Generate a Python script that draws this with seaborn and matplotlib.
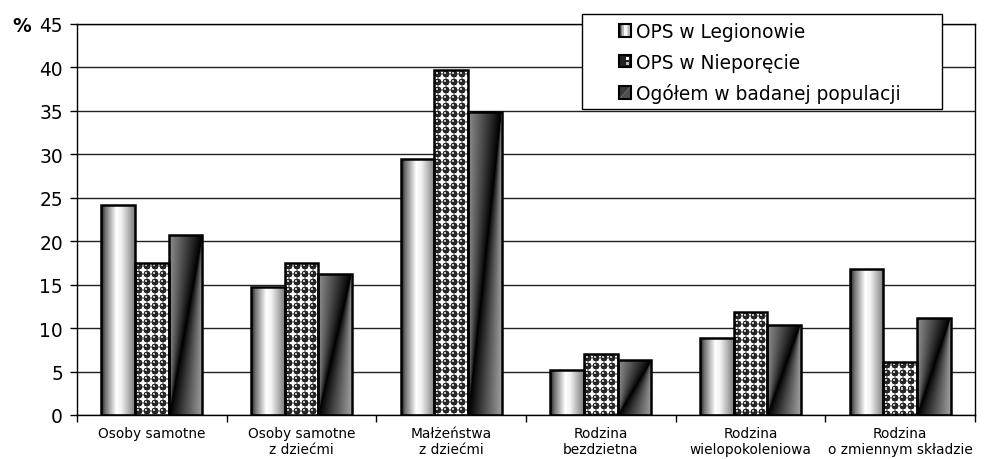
import numpy as np
import pandas as pd
import seaborn as sns
import matplotlib.pyplot as plt
from matplotlib.patches import Rectangle, Polygon
from matplotlib.legend_handler import HandlerBase

# --- data ---
categories = ['Osoby samotne', 'Osoby samotne\nz dziećmi', 'Małżeństwa\nz dziećmi',
              'Rodzina\nbezdzietna', 'Rodzina\nwielopokoleniowa', 'Rodzina\no zmiennym składzie']
series = ['OPS w Legionowie', 'OPS w Nieporęcie', 'Ogółem w badanej populacji']
legionowo = [24.2, 14.7, 29.5, 5.2, 8.9, 16.8]
nieporet = [17.5, 17.5, 39.7, 7.0, 11.8, 6.1]
ogolem = [20.7, 16.2, 34.9, 6.3, 10.4, 11.2]
y_ticks = [0, 5, 10, 15, 20, 25, 30, 35, 40, 45]

df = pd.DataFrame({
    'kategoria': categories * 3,
    'seria': [s for s in series for _ in categories],
    'wartosc': legionowo + nieporet + ogolem,
})

sns.set_style('white')
plt.rcParams['font.family'] = ['DejaVu Sans']
plt.rcParams['text.color'] = 'black'
plt.rcParams['xtick.color'] = 'black'
plt.rcParams['ytick.color'] = 'black'


# --- textures used for the bar fills ---
def cylinder(h, w):
    u = np.linspace(0, 1, max(w, 2))
    prof = np.interp(u, [0, 0.12, 0.45, 0.6, 1], [0.12, 0.45, 1.0, 0.95, 0.5])
    g = np.tile(prof, (max(h, 2), 1))
    return np.dstack([g, g, g])


def diagonal(h, w):
    h, w = max(h, 2), max(w, 2)
    u = np.tile(np.linspace(0, 1, w), (h, 1))
    v = np.tile(np.linspace(1, 0, h)[:, None], (1, w))
    left = 0.55 * (1 - u / np.maximum(v, 1e-6))
    right = 0.62 * (u - v) / np.maximum(1 - v, 1e-6)
    g = np.clip(np.where(u < v, left, right), 0, 1)
    return np.dstack([g, g, g])


def balls(h, w, cell=8):
    h, w = max(h, 2), max(w, 2)
    yy, xx = np.mgrid[0:h, 0:w]
    dx = (xx % cell) - 3.5
    dy = (yy % cell) - 3.5
    r = np.sqrt(dx ** 2 + dy ** 2)
    g = np.where(r < 3.0, 0.15, 1.0)
    g = np.where((r >= 3.0) & (r < 3.8), 0.55, g)
    g = np.where((dx + 1.0) ** 2 + (dy + 1.0) ** 2 < 1.3, 0.75, g)
    return np.dstack([g, g, g])


fig = plt.figure(figsize=(9.88, 4.6), dpi=100)
ax = fig.add_axes([77 / 988, 1 - 416 / 460, (975 - 77) / 988, (416 - 25) / 460])

sns.barplot(data=df, x='kategoria', y='wartosc', hue='seria', order=categories,
            hue_order=series, palette=['white'] * 3, saturation=1, width=0.675,
            edgecolor='black', linewidth=1.8, legend=False, ax=ax, zorder=3)

ax.set_xlim(-0.5, 5.5)
ax.set_ylim(0, 45)

fills = [cylinder, balls, diagonal]
for cont, fill in zip(ax.containers, fills):
    for bar in cont:
        x0, y0 = bar.get_x(), bar.get_y()
        x1, y1 = x0 + bar.get_width(), y0 + bar.get_height()
        p0 = ax.transData.transform((x0, y0))
        p1 = ax.transData.transform((x1, y1))
        w_px = int(round(p1[0] - p0[0]))
        h_px = int(round(p1[1] - p0[1]))
        im = ax.imshow(fill(h_px, w_px), extent=[x0, x1, y0, y1], aspect='auto',
                       interpolation='nearest', zorder=2.5)
        im.set_clip_path(bar)
        bar.set_facecolor('none')

ax.set_xlim(-0.5, 5.5)
ax.set_ylim(0, 45)

# --- axes styling ---
ax.set_yticks(y_ticks)
ax.yaxis.grid(True, color='#222222', linewidth=1)
ax.set_axisbelow(True)
ax.set_xticks(np.arange(-0.5, 6, 1))
ax.set_xticklabels([])
ax.set_xticks(range(len(categories)), minor=True)
ax.set_xticklabels(categories, minor=True)
ax.tick_params(axis='x', which='major', length=5, width=1, color='black', direction='out', bottom=True)
ax.tick_params(axis='x', which='minor', length=0, labelsize=9.9, pad=8, labelcolor='black')
ax.tick_params(axis='y', length=5, width=1, color='black', direction='out', left=True,
               labelsize=13.4, pad=5, labelcolor='black')
ax.set_xlabel('')
ax.set_ylabel('')
for s in ax.spines.values():
    s.set_color('black')
    s.set_linewidth(1)
fig.text(12 / 988, 1 - 26 / 460, '%', fontsize=13.4, fontweight='bold', va='center',
         ha='left', color='black')


# --- legend with small gradient swatches ---
class SwatchHandler(HandlerBase):
    def __init__(self, kind):
        super().__init__()
        self.kind = kind

    def create_artists(self, legend, orig_handle, xdescent, ydescent, width, height, fontsize, trans):
        s = min(width, height)
        x0 = -xdescent
        y0 = -ydescent + (height - s) / 2
        arts = []
        if self.kind == 'cyl':
            n = 8
            prof = np.interp(np.linspace(0, 1, n), [0, 0.45, 0.6, 1], [0.25, 1.0, 0.95, 0.6])
            for i, g in enumerate(prof):
                arts.append(Rectangle((x0 + i * s / n, y0), s / n, s, facecolor=str(g), edgecolor='none'))
        elif self.kind == 'balls':
            arts.append(Rectangle((x0, y0), s, s, facecolor='#222222', edgecolor='none'))
            arts.append(Rectangle((x0 + 0.55 * s, y0 + 0.55 * s), 0.25 * s, 0.25 * s, facecolor='white', edgecolor='none'))
            arts.append(Rectangle((x0 + 0.55 * s, y0 + 0.15 * s), 0.25 * s, 0.25 * s, facecolor='#bbbbbb', edgecolor='none'))
        else:
            arts.append(Polygon([(x0, y0), (x0, y0 + s), (x0 + s, y0 + s)], facecolor='#3a3a3a', edgecolor='none'))
            arts.append(Polygon([(x0, y0), (x0 + s, y0), (x0 + s, y0 + s)], facecolor='#505050', edgecolor='none'))
        arts.append(Rectangle((x0, y0), s, s, facecolor='none', edgecolor='black', linewidth=1.5))
        for a in arts:
            a.set_transform(trans)
        return arts


handles = [Rectangle((0, 0), 1, 1) for _ in series]
fig.patches.append(Rectangle((582 / 988, 1 - 110 / 460), (942 - 582) / 988, 95 / 460,
                             transform=fig.transFigure, facecolor='white', edgecolor='black',
                             linewidth=1, zorder=1))
leg = fig.legend(handles, series, loc='upper left', bbox_to_anchor=(619 / 988, 1 - 23 / 460),
                 frameon=False, fontsize=13.4, handlelength=0.65, handleheight=0.65,
                 handletextpad=0.25, labelspacing=0.62, borderpad=0, borderaxespad=0,
                 handler_map={handles[0]: SwatchHandler('cyl'), handles[1]: SwatchHandler('balls'),
                              handles[2]: SwatchHandler('diag')})
for t in leg.get_texts():
    t.set_color('black')

fig.savefig('out.png', dpi=100)
